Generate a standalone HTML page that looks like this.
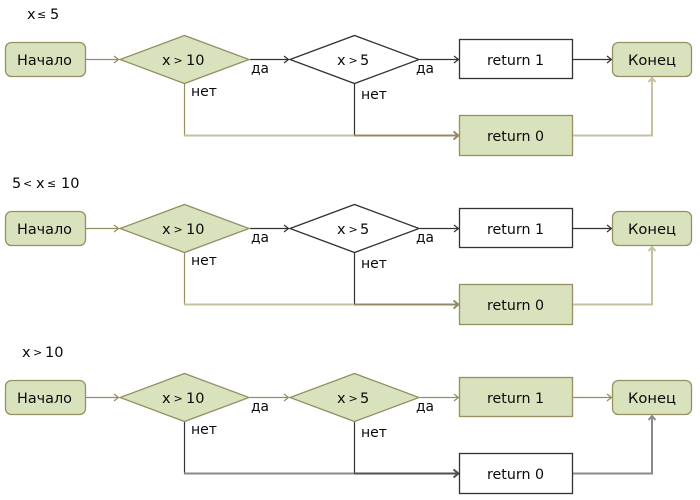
<!DOCTYPE html>
<html><head><meta charset="utf-8"><style>
html,body{margin:0;padding:0;background:#fff}
svg{display:block}
text{font-family:"DejaVu Sans","Liberation Sans",sans-serif;font-size:14.5px;fill:#0a0a0a}
.o{font-size:11px}
.g{fill:#d8e3bd;stroke:#968f62;stroke-width:1.3}
.w{fill:#fff;stroke:#333;stroke-width:1.3}
.ol,.dk,.lt,.ot,.gr,.dt{fill:none}
.ol{stroke:#968f62;stroke-width:1.2}
.dk{stroke:#333;stroke-width:1.2}
.lt{stroke:#c5c0a0;stroke-width:2}
.ot{stroke:#918b68;stroke-width:2}
.gr{stroke:#8a8a8a;stroke-width:2}
.dt{stroke:#505050;stroke-width:2}
</style></head><body>
<svg width="700" height="500" viewBox="0 0 700 500" xmlns="http://www.w3.org/2000/svg">
<text><tspan x="27" y="19">x</tspan> <tspan class="o" x="37" y="18">≤</tspan> <tspan x="50" y="19">5</tspan></text>
<text><tspan x="12" y="188">5</tspan> <tspan class="o" x="23" y="187">&lt;</tspan> <tspan x="36" y="188">x</tspan> <tspan class="o" x="47" y="187">≤</tspan> <tspan x="61" y="188">10</tspan></text>
<text><tspan x="22" y="357">x</tspan> <tspan class="o" x="33" y="356">&gt;</tspan> <tspan x="45" y="357">10</tspan></text>

<!-- Row 1 -->
<g>
<path class="ol" d="M86 59.5H118M114 56L118.500 59.500L114 63"/>
<path class="dk" d="M250 59.500H288M284 56L288.500 59.500L284 63"/>
<path class="dk" d="M420 59.500H458M454 56L458.500 59.500L454 63"/>
<path class="dk" d="M573 59.500H611M607 56L611.500 59.500L607 63"/>
<path class="ol" d="M184.500 84V135"/>
<path class="lt" d="M184 135.500H355"/>
<path class="dk" d="M354.500 84V135"/>
<path class="ot" d="M354 135.500H458M453.500 131.500L458.500 135.500L453.500 139.500"/>
<path class="lt" d="M573 135.500H652V78M648.500 82L652 78L655.500 82"/>
<rect class="g" x="5.500" y="42.500" width="80" height="34" rx="6"/>
<path class="g" d="M120 59.500L184.500 35.500L249 59.500L184.500 83.500Z"/>
<path class="w" d="M290 59.500L354.500 35.500L419 59.500L354.500 83.500Z"/>
<rect class="w" x="459.500" y="39.500" width="113" height="39"/>
<rect class="g" x="459.500" y="115.500" width="113" height="40"/>
<rect class="g" x="612.500" y="42.500" width="79" height="34" rx="6"/>
<text x="17" y="65" textLength="55" lengthAdjust="spacingAndGlyphs">Начало</text>
<text><tspan x="162" y="65">x</tspan> <tspan class="o" x="173.500" y="64">&gt;</tspan> <tspan x="186" y="65">10</tspan></text>
<text><tspan x="337" y="65">x</tspan> <tspan class="o" x="348.500" y="64">&gt;</tspan> <tspan x="360" y="65">5</tspan></text>
<text x="487" y="65" textLength="57" lengthAdjust="spacingAndGlyphs">return 1</text>
<text x="487" y="141" textLength="57" lengthAdjust="spacingAndGlyphs">return 0</text>
<text x="628" y="65" textLength="48" lengthAdjust="spacingAndGlyphs">Конец</text>
<text x="251" y="73" textLength="18" lengthAdjust="spacingAndGlyphs">да</text>
<text x="416" y="73" textLength="18" lengthAdjust="spacingAndGlyphs">да</text>
<text x="191" y="96" textLength="26" lengthAdjust="spacingAndGlyphs">нет</text>
<text x="361" y="99" textLength="26" lengthAdjust="spacingAndGlyphs">нет</text>
</g>

<!-- Row 2 -->
<g transform="translate(0,169)">
<path class="ol" d="M86 59.5H118M114 56L118.500 59.500L114 63"/>
<path class="dk" d="M250 59.500H288M284 56L288.500 59.500L284 63"/>
<path class="dk" d="M420 59.500H458M454 56L458.500 59.500L454 63"/>
<path class="dk" d="M573 59.500H611M607 56L611.500 59.500L607 63"/>
<path class="ol" d="M184.500 84V135"/>
<path class="lt" d="M184 135.500H355"/>
<path class="dk" d="M354.500 84V135"/>
<path class="ot" d="M354 135.500H458M453.500 131.500L458.500 135.500L453.500 139.500"/>
<path class="lt" d="M573 135.500H652V78M648.500 82L652 78L655.500 82"/>
<rect class="g" x="5.500" y="42.500" width="80" height="34" rx="6"/>
<path class="g" d="M120 59.500L184.500 35.500L249 59.500L184.500 83.500Z"/>
<path class="w" d="M290 59.500L354.500 35.500L419 59.500L354.500 83.500Z"/>
<rect class="w" x="459.500" y="39.500" width="113" height="39"/>
<rect class="g" x="459.500" y="115.500" width="113" height="40"/>
<rect class="g" x="612.500" y="42.500" width="79" height="34" rx="6"/>
<text x="17" y="65" textLength="55" lengthAdjust="spacingAndGlyphs">Начало</text>
<text><tspan x="162" y="65">x</tspan> <tspan class="o" x="173.500" y="64">&gt;</tspan> <tspan x="186" y="65">10</tspan></text>
<text><tspan x="337" y="65">x</tspan> <tspan class="o" x="348.500" y="64">&gt;</tspan> <tspan x="360" y="65">5</tspan></text>
<text x="487" y="65" textLength="57" lengthAdjust="spacingAndGlyphs">return 1</text>
<text x="487" y="141" textLength="57" lengthAdjust="spacingAndGlyphs">return 0</text>
<text x="628" y="65" textLength="48" lengthAdjust="spacingAndGlyphs">Конец</text>
<text x="251" y="73" textLength="18" lengthAdjust="spacingAndGlyphs">да</text>
<text x="416" y="73" textLength="18" lengthAdjust="spacingAndGlyphs">да</text>
<text x="191" y="96" textLength="26" lengthAdjust="spacingAndGlyphs">нет</text>
<text x="361" y="99" textLength="26" lengthAdjust="spacingAndGlyphs">нет</text>
</g>

<!-- Row 3 -->
<g transform="translate(0,338)">
<path class="ol" d="M86 59.5H118M114 56L118.500 59.500L114 63"/>
<path class="ol" d="M250 59.500H288M284 56L288.500 59.500L284 63"/>
<path class="ol" d="M420 59.500H458M454 56L458.500 59.500L454 63"/>
<path class="ol" d="M573 59.500H611M607 56L611.500 59.500L607 63"/>
<path class="dk" d="M184.500 84V135"/>
<path class="gr" d="M184 135.500H355"/>
<path class="dk" d="M354.500 84V135"/>
<path class="dt" d="M354 135.500H458M453.500 131.500L458.500 135.500L453.500 139.500"/>
<path class="gr" d="M573 135.500H652V78M648.500 82L652 78L655.500 82"/>
<rect class="g" x="5.500" y="42.500" width="80" height="34" rx="6"/>
<path class="g" d="M120 59.500L184.500 35.500L249 59.500L184.500 83.500Z"/>
<path class="g" d="M290 59.500L354.500 35.500L419 59.500L354.500 83.500Z"/>
<rect class="g" x="459.500" y="39.500" width="113" height="39"/>
<rect class="w" x="459.500" y="115.500" width="113" height="40"/>
<rect class="g" x="612.500" y="42.500" width="79" height="34" rx="6"/>
<text x="17" y="65" textLength="55" lengthAdjust="spacingAndGlyphs">Начало</text>
<text><tspan x="162" y="65">x</tspan> <tspan class="o" x="173.500" y="64">&gt;</tspan> <tspan x="186" y="65">10</tspan></text>
<text><tspan x="337" y="65">x</tspan> <tspan class="o" x="348.500" y="64">&gt;</tspan> <tspan x="360" y="65">5</tspan></text>
<text x="487" y="65" textLength="57" lengthAdjust="spacingAndGlyphs">return 1</text>
<text x="487" y="141" textLength="57" lengthAdjust="spacingAndGlyphs">return 0</text>
<text x="628" y="65" textLength="48" lengthAdjust="spacingAndGlyphs">Конец</text>
<text x="251" y="73" textLength="18" lengthAdjust="spacingAndGlyphs">да</text>
<text x="416" y="73" textLength="18" lengthAdjust="spacingAndGlyphs">да</text>
<text x="191" y="96" textLength="26" lengthAdjust="spacingAndGlyphs">нет</text>
<text x="361" y="99" textLength="26" lengthAdjust="spacingAndGlyphs">нет</text>
</g>
</svg>
</body></html>
